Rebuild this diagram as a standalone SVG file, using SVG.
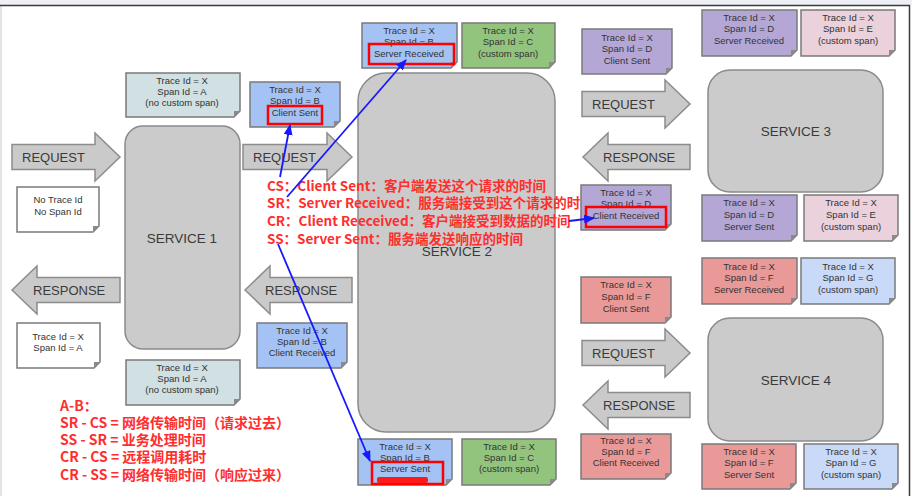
<svg xmlns="http://www.w3.org/2000/svg" width="912" height="496" viewBox="0 0 912 496">
<style>
.svc{fill:#cbcbcb;stroke:#8a8a8a;stroke-width:1.5}
.sl{font-family:"Liberation Sans",Arial,sans-serif;font-size:13.5px;fill:#3a3a3a;text-anchor:middle}
.nb{stroke:#7a7a7a;stroke-width:1.5}
.fold{fill:#8a8a8a}
.nt{font-family:"Liberation Sans",Arial,sans-serif;font-size:9.5px;fill:#333;text-anchor:middle}
.arr{fill:#cacaca;stroke:#8c8c8c;stroke-width:1.5}
.al{font-family:"Liberation Sans",Arial,sans-serif;font-size:13px;fill:#3a3a3a}
.rb{fill:none;stroke:#ff0000;stroke-width:2.5}
.ann{font-family:"Noto Sans CJK SC","Noto Sans",sans-serif;font-size:13.5px;font-weight:bold;fill:#ff2e2e}
.fm{font-size:14px}
.c{fill:none;stroke:#1818ff;stroke-width:1.8}
.lb{fill:#d0e0e3}.bl{fill:#a4c2f4}.wh{fill:#ffffff}.gr{fill:#93c47d}.pu{fill:#b4a7d6}.pk{fill:#ead1dc}.sa{fill:#ea9999}.lbl{fill:#c9daf8}
</style>
<defs>
<marker id="ah" markerUnits="userSpaceOnUse" markerWidth="11" markerHeight="9" refX="10" refY="4.5" orient="auto">
<path d="M0,0 L11,4.5 L0,9 Z" fill="#1818ff"/>
</marker>
</defs>
<rect x="0" y="0" width="912" height="496" fill="#ffffff"/>
<rect x="0" y="0" width="912" height="5" fill="#eef0f5"/>
<rect x="0" y="5" width="2" height="491" fill="#e4e4e4"/>
<line x1="0" y1="5.5" x2="910" y2="5.5" stroke="#3a3a3a" stroke-width="1.5"/>
<line x1="909.5" y1="5" x2="909.5" y2="496" stroke="#3a3a3a" stroke-width="1.5"/>

<g id="service1"><rect class="svc" x="125" y="126" width="115" height="223" rx="18"/><text class="sl" x="182" y="243">SERVICE 1</text></g>
<g id="service2"><rect class="svc" x="358" y="73" width="197" height="359" rx="28"/><text class="sl" x="457" y="256">SERVICE 2</text></g>
<g id="service3"><rect class="svc" x="708" y="70" width="175" height="122" rx="22"/><text class="sl" x="796" y="136">SERVICE 3</text></g>
<g id="service4"><rect class="svc" x="708" y="318" width="175" height="123" rx="22"/><text class="sl" x="796" y="385">SERVICE 4</text></g>

<g id="req1"><path class="arr" d="M12 144.5 H95 V133 L120 157 L95 181 V169.5 H12 Z"/><text class="al" x="22" y="162">REQUEST</text></g>
<g id="req2"><path class="arr" d="M243 144.5 H327 V133 L352 157 L327 181 V169.5 H243 Z"/><text class="al" x="253" y="162">REQUEST</text></g>
<g id="resp1"><path class="arr" d="M12 290 L37 266 V277.5 H120 V302.5 H37 V314 Z"/><text class="al" x="33" y="295">RESPONSE</text></g>
<g id="resp2"><path class="arr" d="M245 290 L270 266 V277.5 H352 V302.5 H270 V314 Z"/><text class="al" x="265" y="295">RESPONSE</text></g>
<g id="req3"><path class="arr" d="M582 91.5 H665 V80 L690 104 L665 128 V116.5 H582 Z"/><text class="al" x="592" y="109">REQUEST</text></g>
<g id="resp3"><path class="arr" d="M583 157 L608 133 V144.5 H690 V169.5 H608 V181 Z"/><text class="al" x="603" y="162">RESPONSE</text></g>
<g id="req4"><path class="arr" d="M582 340.5 H665 V329 L690 353 L665 377 V365.5 H582 Z"/><text class="al" x="592" y="358">REQUEST</text></g>
<g id="resp4"><path class="arr" d="M583 405 L608 381 V392.5 H690 V417.5 H608 V429 Z"/><text class="al" x="603" y="410">RESPONSE</text></g>

<g id="legend">
<text class="ann" x="267" y="191">CS：Client Sent：客户端发送这个请求的时间</text>
<text class="ann" x="267" y="208">SR：Server Received：服务端接受到这个请求的时间</text>
<text class="ann" x="267" y="226">CR：Client Reeceived：客户端接受到数据的时间</text>
<text class="ann" x="267" y="244">SS：Server Sent：服务端发送响应的时间</text>
</g>

<g id="n1"><path class="nb lb" d="M126 73 H240 V111 L234 117 H126 Z"/><path class="fold" d="M240 111 L234 117 L234 111 Z"/><text class="nt" x="182" y="84">Trace Id = X</text><text class="nt" x="182" y="95">Span Id = A</text><text class="nt" x="182" y="106">(no custom span)</text></g>
<g id="n2"><path class="nb bl" d="M250 82 H340 V121 L334 127 H250 Z"/><path class="fold" d="M340 121 L334 127 L334 121 Z"/><text class="nt" x="295" y="93">Trace Id = X</text><text class="nt" x="295" y="104">Span Id = B</text><text class="nt" x="295" y="116">Client Sent</text></g>
<g id="n3"><path class="nb wh" d="M17 187 H99 V226 L93 232 H17 Z"/><path class="fold" d="M99 226 L93 232 L93 226 Z"/><text class="nt" x="58" y="203">No Trace Id</text><text class="nt" x="58" y="215">No Span Id</text></g>
<g id="n4"><path class="nb wh" d="M17 323 H100 V362 L94 368 H17 Z"/><path class="fold" d="M100 362 L94 368 L94 362 Z"/><text class="nt" x="58" y="340">Trace Id = X</text><text class="nt" x="58" y="351">Span Id = A</text></g>
<g id="n5"><path class="nb lb" d="M126 360 H240 V399 L234 405 H126 Z"/><path class="fold" d="M240 399 L234 405 L234 399 Z"/><text class="nt" x="182" y="371">Trace Id = X</text><text class="nt" x="182" y="382">Span Id = A</text><text class="nt" x="182" y="393">(no custom span)</text></g>
<g id="n6"><path class="nb bl" d="M257 323 H347 V362 L341 368 H257 Z"/><path class="fold" d="M347 362 L341 368 L341 362 Z"/><text class="nt" x="302" y="334">Trace Id = X</text><text class="nt" x="302" y="345">Span Id = B</text><text class="nt" x="302" y="356">Client Received</text></g>
<g id="n7"><path class="nb bl" d="M362 23 H457 V62 L451 68 H362 Z"/><path class="fold" d="M457 62 L451 68 L451 62 Z"/><text class="nt" x="409" y="34">Trace Id = X</text><text class="nt" x="409" y="45">Span Id = B</text><text class="nt" x="409" y="57">Server Received</text></g>
<g id="n8"><path class="nb gr" d="M462 23 H555 V62 L549 68 H462 Z"/><path class="fold" d="M555 62 L549 68 L549 62 Z"/><text class="nt" x="508" y="34">Trace Id = X</text><text class="nt" x="508" y="45">Span Id = C</text><text class="nt" x="508" y="57">(custom span)</text></g>
<g id="n9"><path class="nb bl" d="M358 439 H452 V479 L446 485 H358 Z"/><path class="fold" d="M452 479 L446 485 L446 479 Z"/><text class="nt" x="405" y="450">Trace Id = X</text><text class="nt" x="405" y="461">Span Id = B</text><text class="nt" x="405" y="472">Server Sent</text></g>
<g id="n10"><path class="nb gr" d="M462 439 H556 V479 L550 485 H462 Z"/><path class="fold" d="M556 479 L550 485 L550 479 Z"/><text class="nt" x="509" y="450">Trace Id = X</text><text class="nt" x="509" y="461">Span Id = C</text><text class="nt" x="509" y="472">(custom span)</text></g>
<g id="n11"><path class="nb pu" d="M582 29 H672 V68 L666 74 H582 Z"/><path class="fold" d="M672 68 L666 74 L666 68 Z"/><text class="nt" x="627" y="41">Trace Id = X</text><text class="nt" x="627" y="52">Span Id = D</text><text class="nt" x="627" y="64">Client Sent</text></g>
<g id="n12"><path class="nb pu" d="M702 10 H797 V50 L791 56 H702 Z"/><path class="fold" d="M797 50 L791 56 L791 50 Z"/><text class="nt" x="749" y="21">Trace Id = X</text><text class="nt" x="749" y="32">Span Id = D</text><text class="nt" x="749" y="44">Server Received</text></g>
<g id="n13"><path class="nb pk" d="M801 10 H895 V50 L889 56 H801 Z"/><path class="fold" d="M895 50 L889 56 L889 50 Z"/><text class="nt" x="848" y="21">Trace Id = X</text><text class="nt" x="848" y="32">Span Id = E</text><text class="nt" x="848" y="44">(custom span)</text></g>
<g id="n14"><path class="nb pu" d="M581 185 H671 V224 L665 230 H581 Z"/><path class="fold" d="M671 224 L665 230 L665 224 Z"/><text class="nt" x="626" y="196">Trace Id = X</text><text class="nt" x="626" y="207">Span Id = D</text><text class="nt" x="626" y="219">Client Received</text></g>
<g id="n15"><path class="nb pu" d="M702 195 H797 V235 L791 241 H702 Z"/><path class="fold" d="M797 235 L791 241 L791 235 Z"/><text class="nt" x="749" y="206">Trace Id = X</text><text class="nt" x="749" y="218">Span Id = D</text><text class="nt" x="749" y="230">Server Sent</text></g>
<g id="n16"><path class="nb pk" d="M804 195 H898 V235 L892 241 H804 Z"/><path class="fold" d="M898 235 L892 241 L892 235 Z"/><text class="nt" x="851" y="206">Trace Id = X</text><text class="nt" x="851" y="218">Span Id = E</text><text class="nt" x="851" y="230">(custom span)</text></g>
<g id="n17"><path class="nb sa" d="M581 277 H671 V317 L665 323 H581 Z"/><path class="fold" d="M671 317 L665 323 L665 317 Z"/><text class="nt" x="626" y="288">Trace Id = X</text><text class="nt" x="626" y="300">Span Id = F</text><text class="nt" x="626" y="312">Client Sent</text></g>
<g id="n18"><path class="nb sa" d="M702 258 H797 V298 L791 304 H702 Z"/><path class="fold" d="M797 298 L791 304 L791 298 Z"/><text class="nt" x="749" y="270">Trace Id = X</text><text class="nt" x="749" y="281">Span Id = F</text><text class="nt" x="749" y="293">Server Received</text></g>
<g id="n19"><path class="nb lbl" d="M801 258 H895 V298 L889 304 H801 Z"/><path class="fold" d="M895 298 L889 304 L889 298 Z"/><text class="nt" x="848" y="270">Trace Id = X</text><text class="nt" x="848" y="281">Span Id = G</text><text class="nt" x="848" y="293">(custom span)</text></g>
<g id="n20"><path class="nb sa" d="M581 434 H671 V473 L665 479 H581 Z"/><path class="fold" d="M671 473 L665 479 L665 473 Z"/><text class="nt" x="626" y="444">Trace Id = X</text><text class="nt" x="626" y="455">Span Id = F</text><text class="nt" x="626" y="466">Client Received</text></g>
<g id="n21"><path class="nb sa" d="M702 444 H796 V483 L790 489 H702 Z"/><path class="fold" d="M796 483 L790 489 L790 483 Z"/><text class="nt" x="749" y="455">Trace Id = X</text><text class="nt" x="749" y="466">Span Id = F</text><text class="nt" x="749" y="478">Server Sent</text></g>
<g id="n22"><path class="nb lbl" d="M804 444 H898 V483 L892 489 H804 Z"/><path class="fold" d="M898 483 L892 489 L892 483 Z"/><text class="nt" x="851" y="455">Trace Id = X</text><text class="nt" x="851" y="466">Span Id = G</text><text class="nt" x="851" y="478">(custom span)</text></g>

<g id="highlights">
<rect class="rb" x="268" y="106" width="54" height="18"/>
<rect class="rb" x="369" y="44" width="85" height="20"/>
<rect class="rb" x="586" y="207" width="80" height="20"/>
<rect class="rb" x="372" y="462" width="71" height="22"/>
<rect x="377" y="477" width="51" height="6" rx="2" fill="#ff1a1a"/>
</g>

<g id="formulas">
<text class="ann fm" x="60" y="411">A-B：</text>
<text class="ann fm" x="60" y="428">SR - CS = 网络传输时间（请求过去）</text>
<text class="ann fm" x="60" y="445">SS - SR = 业务处理时间</text>
<text class="ann fm" x="60" y="462">CR - CS = 远程调用耗时</text>
<text class="ann fm" x="60" y="480">CR - SS = 网络传输时间（响应过来）</text>
</g>

<g id="connectors">
<path class="c" d="M280 177 L290 125" marker-end="url(#ah)"/>
<path class="c" d="M287 197 L406 60" marker-end="url(#ah)"/>
<path class="c" d="M569 221 L594 218" marker-end="url(#ah)"/>
<path class="c" d="M278 244 L370 461" marker-end="url(#ah)"/>
</g>
</svg>
